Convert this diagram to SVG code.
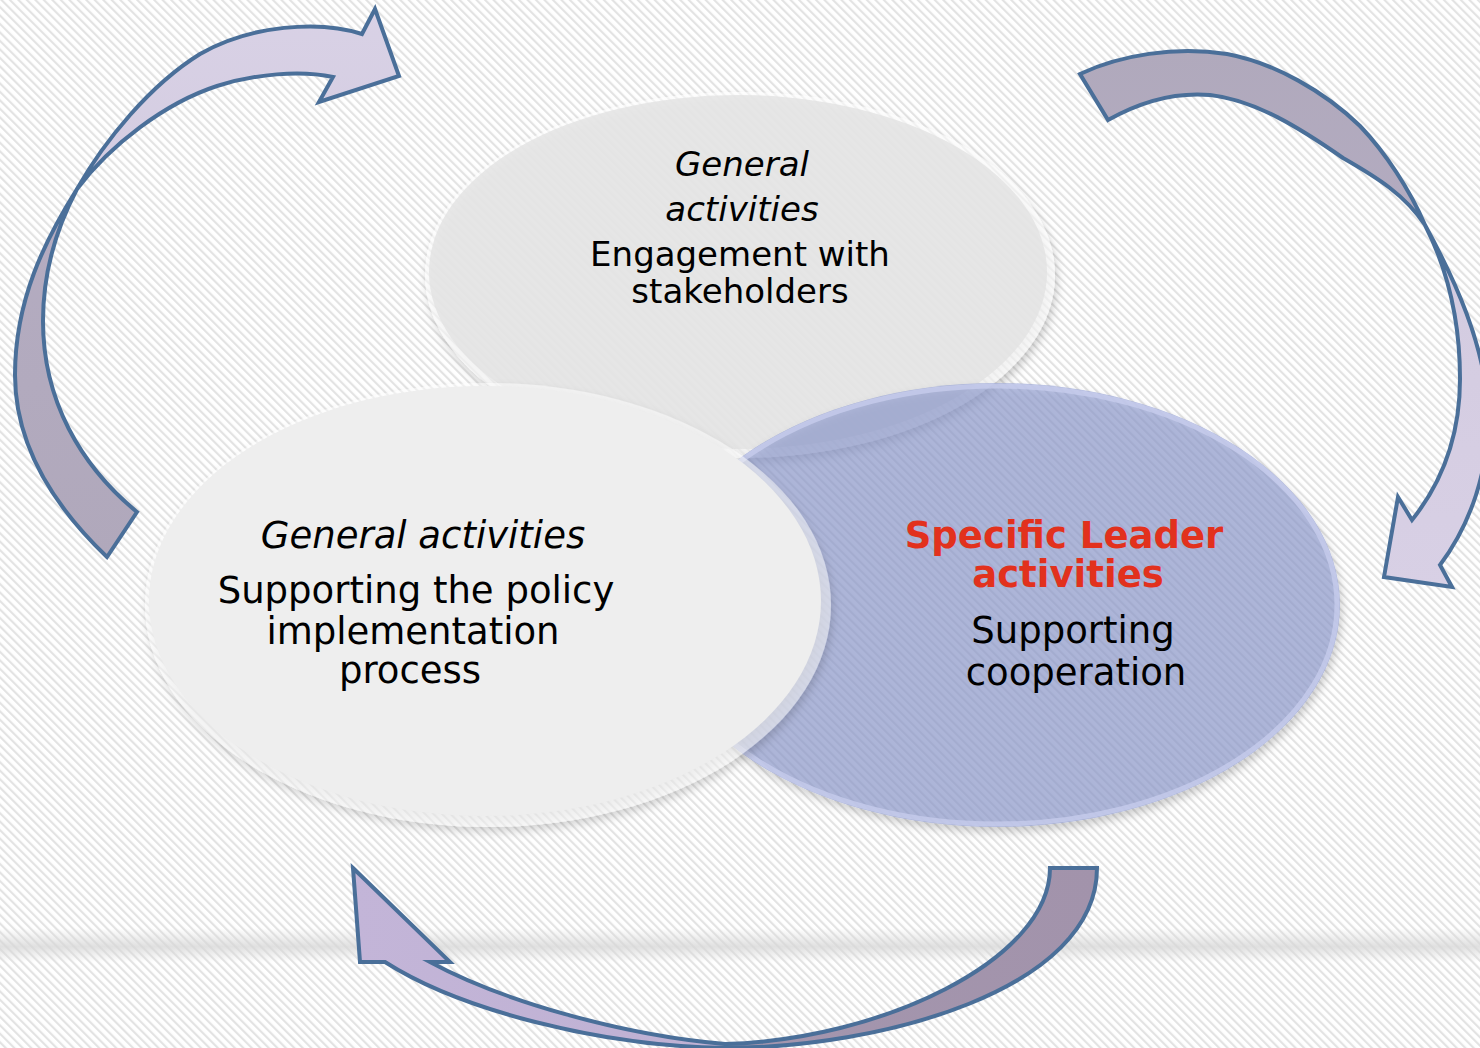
<svg xmlns="http://www.w3.org/2000/svg" width="1480" height="1048" viewBox="0 0 1480 1048">
  <defs>
    <pattern id="stripes" width="6" height="6" patternUnits="userSpaceOnUse" patternTransform="rotate(-45)">
      <rect x="0" y="0" width="2.2" height="6" fill="#e3e3e3"/>
    </pattern>
    <linearGradient id="band" x1="0" y1="0" x2="0" y2="1">
      <stop offset="0" stop-color="#d6d6d6" stop-opacity="0"/>
      <stop offset="0.55" stop-color="#d6d6d6" stop-opacity="0.75"/>
      <stop offset="1" stop-color="#d6d6d6" stop-opacity="0"/>
    </linearGradient>
    <linearGradient id="gLeftArrow" gradientUnits="userSpaceOnUse" x1="0" y1="0" x2="0" y2="560">
      <stop offset="0" stop-color="#d9d2e6"/>
      <stop offset="0.32" stop-color="#d4cce1"/>
      <stop offset="0.37" stop-color="#b4acc1"/>
      <stop offset="1" stop-color="#b0a8bb"/>
    </linearGradient>
    <linearGradient id="gRightArrow" gradientUnits="userSpaceOnUse" x1="0" y1="45" x2="0" y2="590">
      <stop offset="0" stop-color="#b0a9bc"/>
      <stop offset="0.31" stop-color="#b3abc0"/>
      <stop offset="0.36" stop-color="#d3cbe0"/>
      <stop offset="1" stop-color="#d8d0e5"/>
    </linearGradient>
    <linearGradient id="gBottomArrow" gradientUnits="userSpaceOnUse" x1="353" y1="0" x2="1100" y2="0">
      <stop offset="0" stop-color="#c3b5d8"/>
      <stop offset="0.47" stop-color="#bfb1d3"/>
      <stop offset="0.53" stop-color="#a496ae"/>
      <stop offset="1" stop-color="#a293ab"/>
    </linearGradient>
    <filter id="shadow" x="-10%" y="-10%" width="120%" height="130%">
      <feDropShadow dx="2" dy="5" stdDeviation="4" flood-color="#000" flood-opacity="0.3"/>
    </filter>
    <style>
      .arrow { stroke: #4a6f99; stroke-width: 4; stroke-linejoin: miter; stroke-miterlimit: 10; }
      .txt { font-family: "DejaVu Sans", Verdana, sans-serif; font-size: 34px; fill: #000; text-anchor: middle; }
      .big { font-size: 37px; }
      .it { font-style: italic; }
      .red { fill: #e2311d; font-weight: bold; }
    </style>
  </defs>

  <!-- background -->
  <rect width="1480" height="1048" fill="#ffffff"/>
  <rect width="1480" height="1048" fill="url(#stripes)"/>
  <rect x="0" y="928" width="1480" height="34" fill="url(#band)"/>

  <!-- top node -->
  <g id="node-top">
    <g filter="url(#shadow)">
      <ellipse cx="740" cy="275" rx="315" ry="183" fill="#ffffff" fill-opacity="0.6"/>
      <ellipse cx="738" cy="272" rx="309" ry="177" fill="#e3e3e3" fill-opacity="0.82"/>
    </g>
  </g>

  <!-- right node -->
  <g id="node-right">
    <ellipse cx="997" cy="605" rx="343" ry="222" fill="#8e9bd0" fill-opacity="0.62" filter="url(#shadow)"/>
    <ellipse cx="997" cy="605" rx="340" ry="219" fill="none" stroke="#c8cdee" stroke-opacity="0.75" stroke-width="5"/>
  </g>

  <!-- left node -->
  <g id="node-left">
    <g filter="url(#shadow)">
      <ellipse cx="488" cy="605" rx="343" ry="222" fill="#ffffff" fill-opacity="0.5"/>
      <ellipse cx="485" cy="601" rx="336" ry="215" fill="#eeeeee"/>
    </g>
  </g>

  <!-- texts -->
  <g id="labels">
    <text class="txt it" x="742" y="176">General</text>
    <text class="txt it" x="742" y="221">activities</text>
    <text class="txt"><tspan x="740" y="266">Engagement with</tspan><tspan x="740" y="303">stakeholders</tspan></text>

    <text class="txt big it" x="423" y="548">General activities</text>
    <text class="txt big"><tspan x="416" y="603">Supporting the policy</tspan><tspan x="413" y="644">implementation</tspan><tspan x="410" y="683">process</tspan></text>

    <text class="txt big red"><tspan x="1064" y="548">Specific Leader</tspan><tspan x="1068" y="587">activities</tspan></text>
    <text class="txt big"><tspan x="1073" y="643">Supporting</tspan><tspan x="1076" y="685">cooperation</tspan></text>
  </g>

  <!-- connectors -->
  <g id="connectors">
    <path class="arrow" fill="url(#gLeftArrow)" d="M107,557 C60,512 15,450 15,375 C15,300 45,240 77,189 C105,140 150,85 200,54 C250,25 320,20 362,34 L375,9 L399,76 L319,102 L333,77 C300,70 255,74 217,86 C165,103 110,145 77,189 C58,225 43,270 43,321 C43,400 80,465 137,512 Z"/>
    <path class="arrow" fill="url(#gRightArrow)" d="M1080,74 C1120,55 1175,46 1227,54 C1275,63 1325,92 1360,126 C1385,152 1410,190 1425,225 C1455,280 1485,345 1488,410 C1490,470 1470,525 1440,565 L1452,587 L1384,577 L1398,497 L1412,520 C1440,485 1460,440 1460,379 C1460,320 1448,270 1425,225 C1405,195 1378,178 1343,158 C1300,128 1255,100 1210,95 C1175,92 1140,102 1108,120 Z"/>
    <path class="arrow" fill="url(#gBottomArrow)" d="M353,868 L450,962 L430,962 C500,1000 620,1035 725,1044 C880,1040 1050,960 1050,868 L1097,868 C1097,990 880,1048 725,1048 C600,1046 460,1010 385,962 L360,962 Z"/>
  </g>
</svg>
